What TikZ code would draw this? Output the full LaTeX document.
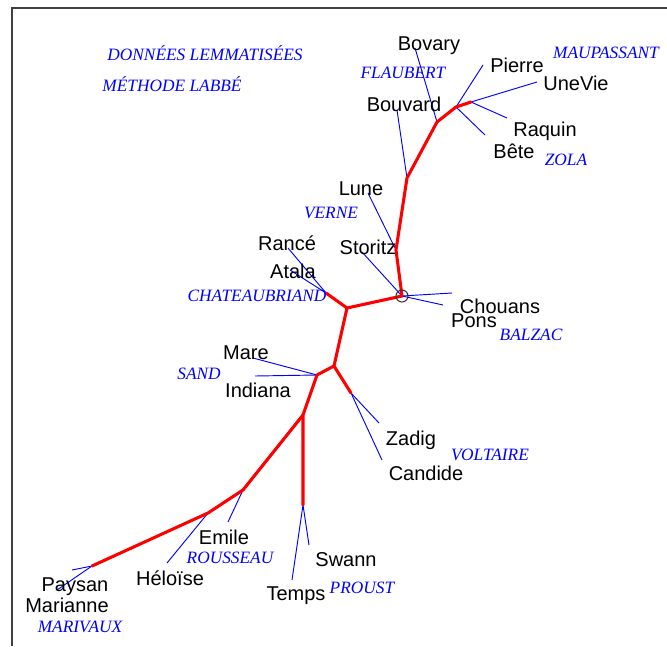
\documentclass[tikz,border=0pt]{standalone}
\usepackage{fontspec}
\setmainfont{Liberation Sans}
\newfontfamily\authfont{Liberation Serif}
\begin{document}
\begin{tikzpicture}[x=0.75pt,y=-0.75pt,
  redge/.style={draw=red,line width=2.3pt,line join=round,line cap=round},
  bedge/.style={draw=blue,line width=0.7pt},
  leaf/.style={font=\fontsize{15}{15}\selectfont,text=black,inner sep=0pt},
  auth/.style={font=\authfont\itshape\fontsize{13}{13}\selectfont,text=blue,inner sep=0pt},
  frameline/.style={draw=black!75,line width=1.5pt}]
\useasboundingbox (0,0) rectangle (667,646);
\fill[white] (0,0) rectangle (667,646);
% frame
\coordinate (fb) at (11.5,646);
\coordinate (fc) at (11.5,7.5);
\coordinate (fr) at (667,7.5);
\draw[frameline] (fb) -- (fc) -- (fr);
% internal nodes
\coordinate (O) at (402,296);
\coordinate (a1) at (396,250);
\coordinate (a2) at (407,178);
\coordinate (a3) at (437,122);
\coordinate (a4) at (456,107);
\coordinate (a5) at (471,102);
\coordinate (c1) at (347,308);
\coordinate (c2) at (326,293);
\coordinate (d1) at (334,366);
\coordinate (d2) at (351,393);
\coordinate (d3) at (317,375);
\coordinate (e1) at (303,415);
\coordinate (e2) at (303,505);
\coordinate (f1) at (243,490);
\coordinate (f2) at (208,513);
\coordinate (f3) at (92,566);
% leaf ends
\coordinate (lBovary) at (415,48);
\coordinate (lBouvard) at (397,110);
\coordinate (lPierre) at (483,65);
\coordinate (lUneVie) at (537,82);
\coordinate (lRaquin) at (507,118);
\coordinate (lBete) at (485,135);
\coordinate (lLune) at (368,193);
\coordinate (lStoritz) at (362,252);
\coordinate (lRance) at (288,248);
\coordinate (lAtala) at (290,270);
\coordinate (lChouans) at (452,293);
\coordinate (lPons) at (443,305);
\coordinate (lMare) at (253,358);
\coordinate (lIndiana) at (255,376);
\coordinate (lZadig) at (379,423);
\coordinate (lCandide) at (382,460);
\coordinate (lEmile) at (228,522);
\coordinate (lHeloise) at (167,563);
\coordinate (lPaysan) at (72,570);
\coordinate (lMarianne) at (57,590);
\coordinate (lSwann) at (309,545);
\coordinate (lTemps) at (292,580);
% blue leaf edges
\draw[bedge] (a3) -- (lBovary);
\draw[bedge] (a2) -- (lBouvard);
\draw[bedge] (a4) -- (lPierre);
\draw[bedge] (a5) -- (lUneVie);
\draw[bedge] (a5) -- (lRaquin);
\draw[bedge] (a4) -- (lBete);
\draw[bedge] (a1) -- (lLune);
\draw[bedge] (O) -- (lStoritz);
\draw[bedge] (c2) -- (lRance);
\draw[bedge] (c2) -- (lAtala);
\draw[bedge] (O) -- (lChouans);
\draw[bedge] (O) -- (lPons);
\draw[bedge] (d3) -- (lMare);
\draw[bedge] (d3) -- (lIndiana);
\draw[bedge] (d2) -- (lZadig);
\draw[bedge] (d2) -- (lCandide);
\draw[bedge] (f1) -- (lEmile);
\draw[bedge] (f2) -- (lHeloise);
\draw[bedge] (f3) -- (lPaysan);
\draw[bedge] (f3) -- (lMarianne);
\draw[bedge] (e2) -- (lSwann);
\draw[bedge] (e2) -- (lTemps);
% red internal edges
\draw[redge] (O) -- (a1) -- (a2) -- (a3) -- (a4) -- (a5);
\draw[redge] (O) -- (c1) -- (c2);
\draw[redge] (c1) -- (d1) -- (d2);
\draw[redge] (d1) -- (d3) -- (e1) -- (e2);
\draw[redge] (e1) -- (f1) -- (f2) -- (f3);
% root circle
\node[draw=black!80,circle,line width=0.75pt,minimum size=9pt,inner sep=0pt] (root) at (O) {};
% leaf labels
\node[leaf] (tBovary) at (429,46) {Bovary};
\node[leaf] (tPierre) at (517,65) {Pierre};
\node[leaf] (tUneVie) at (576,83) {UneVie};
\node[leaf] (tBouvard) at (404,104) {Bouvard};
\node[leaf] (tRaquin) at (545,131) {Raquin};
\node[leaf] (tBete) at (514,151) {Bête};
\node[leaf] (tLune) at (361,189) {Lune};
\node[leaf] (tRance) at (287,243) {Rancé};
\node[leaf] (tStoritz) at (368,247) {Storitz};
\node[leaf] (tAtala) at (293,271) {Atala};
\node[leaf] (tChouans) at (500,306) {Chouans};
\node[leaf] (tPons) at (474,321) {Pons};
\node[leaf] (tMare) at (246,353) {Mare};
\node[leaf] (tIndiana) at (258,390) {Indiana};
\node[leaf] (tZadig) at (411,440) {Zadig};
\node[leaf] (tCandide) at (426,473) {Candide};
\node[leaf] (tEmile) at (224,537) {Emile};
\node[leaf] (tHeloise) at (170,578) {Héloïse};
\node[leaf] (tPaysan) at (75,587) {Paysan};
\node[leaf] (tMarianne) at (67,605) {Marianne};
\node[leaf] (tSwann) at (346,560) {Swann};
\node[leaf] (tTemps) at (296,596) {Temps};
% author labels
\node[auth] (hDon) at (205,53) {DONNÉES LEMMATISÉES};
\node[auth] (hMeth) at (172,84) {MÉTHODE LABBÉ};
\node[auth] (aFlaubert) at (403,73) {FLAUBERT};
\node[auth] (aMaupassant) at (606,53) {MAUPASSANT};
\node[auth] (aZola) at (566,160) {ZOLA};
\node[auth] (aVerne) at (331,213) {VERNE};
\node[auth] (aChateau) at (257,296) {CHATEAUBRIAND};
\node[auth] (aBalzac) at (531,335) {BALZAC};
\node[auth] (aSand) at (199,374) {SAND};
\node[auth] (aVoltaire) at (490,455) {VOLTAIRE};
\node[auth] (aRousseau) at (230,558) {ROUSSEAU};
\node[auth] (aProust) at (362,588) {PROUST};
\node[auth] (aMarivaux) at (80,627) {MARIVAUX};
\end{tikzpicture}
\end{document}
